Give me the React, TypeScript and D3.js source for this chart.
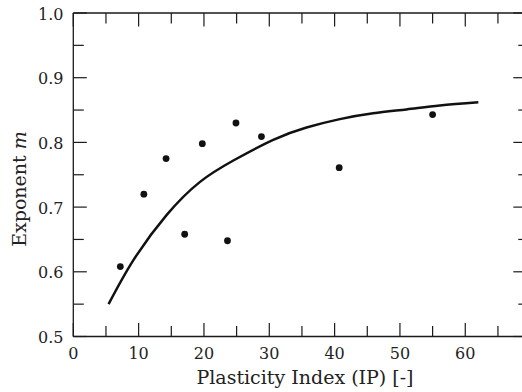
import React from "react";
import * as d3 from "d3";

// Measured data points (Plasticity Index, exponent m)
const pointIP = [7.2, 10.8, 14.2, 17.05, 19.75, 23.6, 24.9, 28.8, 40.7, 55.0];
const pointM = [0.608, 0.72, 0.775, 0.658, 0.798, 0.648, 0.83, 0.809, 0.761, 0.843];

// Fitted curve
const curveIP = [5.4, 9.2, 14.3, 19.4, 24.5, 30.6, 35.7, 40.8, 45.9, 51.0, 56.1, 62.0];
const curveM = [0.55, 0.618, 0.688, 0.739, 0.772, 0.804, 0.823, 0.836, 0.845, 0.851, 0.857, 0.862];

const xMajor = [0, 10, 20, 30, 40, 50, 60, 70];
const xMinor = [5, 15, 25, 35, 45, 55, 65];
const yMajor = [0.5, 0.6, 0.7, 0.8, 0.9, 1.0];
const yMinor = [0.55, 0.65, 0.75, 0.85, 0.95];
const xLabelValues = [0, 10, 20, 30, 40, 50, 60];
const xLabels = ["0", "10", "20", "30", "40", "50", "60"];
const yLabels = ["0.5", "0.6", "0.7", "0.8", "0.9", "1.0"];

const W = 522;
const H = 392;
const FONT = "'DejaVu Serif', serif";

export default function App() {
  const x = d3.scaleLinear().domain([0, 70]).range([73.3, 530.6]);
  const y = d3.scaleLinear().domain([0.5, 1.0]).range([336.5, 13]);
  const [x0, x1] = x.range();
  const [y0, y1] = y.range();
  const MAJ = 13.5;
  const MIN = 10.5;
  const RMAJ = 17.3;
  const RMIN = 12.3;

  const curveData = curveIP.map((v, i) => [v, curveM[i]] as [number, number]);
  const line = d3
    .line<[number, number]>()
    .x((d) => x(d[0]))
    .y((d) => y(d[1]))
    .curve(d3.curveNatural);

  const stroke = "#1a1a1a";
  const tStyle = { fontFamily: FONT };

  return (
    <svg
      width={W}
      height={H}
      style={{ position: "absolute", left: 0, top: 0, background: "#fff", fontFamily: FONT }}
    >
      <rect x={0} y={0} width={W} height={H} fill="#fff" />
      <line x1={x0} x2={x1} y1={y0} y2={y0} stroke={stroke} strokeWidth={1.3} />
      <line x1={x0} x2={x1} y1={y1} y2={y1} stroke={stroke} strokeWidth={1.3} />
      <line x1={x0} x2={x0} y1={y0} y2={y1} stroke={stroke} strokeWidth={1.3} />
      <line x1={x1} x2={x1} y1={y0} y2={y1} stroke={stroke} strokeWidth={1.3} />

      {xMajor.map((v) => (
        <g key={"xM" + v}>
          <line x1={x(v)} x2={x(v)} y1={y0} y2={y0 - MAJ} stroke={stroke} strokeWidth={1.2} />
          <line x1={x(v)} x2={x(v)} y1={y1} y2={y1 + MAJ} stroke={stroke} strokeWidth={1.2} />
        </g>
      ))}
      {xMinor.map((v) => (
        <g key={"xm" + v}>
          <line x1={x(v)} x2={x(v)} y1={y0} y2={y0 - MIN} stroke={stroke} strokeWidth={1.2} />
          <line x1={x(v)} x2={x(v)} y1={y1} y2={y1 + MIN} stroke={stroke} strokeWidth={1.2} />
        </g>
      ))}
      {yMajor.map((v) => (
        <g key={"yM" + v}>
          <line x1={x0} x2={x0 + MAJ} y1={y(v)} y2={y(v)} stroke={stroke} strokeWidth={1.2} />
          <line x1={x1} x2={x1 - RMAJ} y1={y(v)} y2={y(v)} stroke={stroke} strokeWidth={1.2} />
        </g>
      ))}
      {yMinor.map((v) => (
        <g key={"ym" + v}>
          <line x1={x0} x2={x0 + MIN} y1={y(v)} y2={y(v)} stroke={stroke} strokeWidth={1.2} />
          <line x1={x1} x2={x1 - RMIN} y1={y(v)} y2={y(v)} stroke={stroke} strokeWidth={1.2} />
        </g>
      ))}

      {xLabelValues.map((v, i) => (
        <text key={"xl" + v} x={x(v)} y={359} textAnchor="middle" fontSize={16} fill="#222" style={tStyle}>
          {xLabels[i]}
        </text>
      ))}
      {yMajor.map((v, i) => (
        <text key={"yl" + v} x={63.5} y={y(v) + 6.5} textAnchor="end" fontSize={16} fill="#222" style={tStyle}>
          {yLabels[i]}
        </text>
      ))}

      <text x={305} y={384} textAnchor="middle" fontSize={19} fill="#222" style={tStyle}>
        Plasticity Index (IP) [-]
      </text>
      <text
        transform="translate(26,189) rotate(-90)"
        textAnchor="middle"
        fontSize={19}
        fill="#222"
        style={tStyle}
      >
        Exponent <tspan fontStyle="italic">m</tspan>
      </text>

      <path d={line(curveData) || ""} fill="none" stroke="#111" strokeWidth={2.5} />

      {pointIP.map((v, i) => (
        <circle key={"p" + i} cx={x(v)} cy={y(pointM[i])} r={3.4} fill="#111" />
      ))}
    </svg>
  );
}
